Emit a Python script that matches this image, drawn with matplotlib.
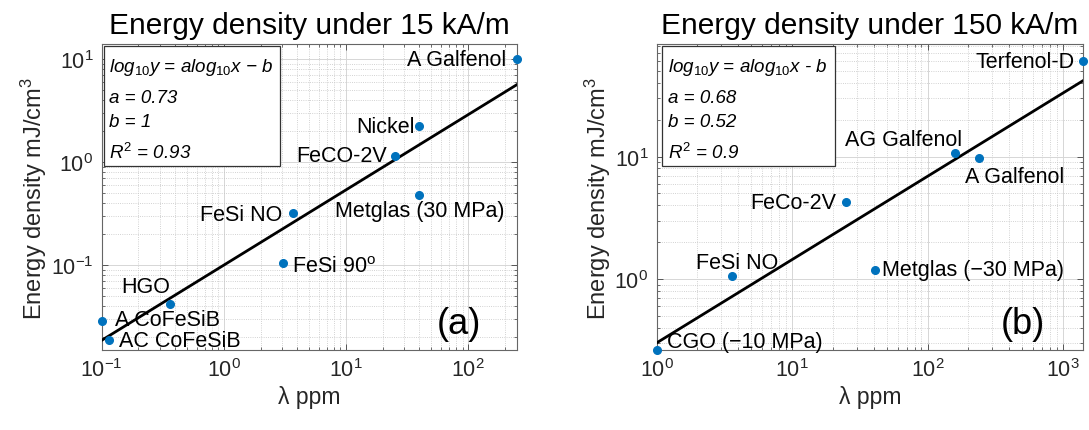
import matplotlib
matplotlib.use("Agg")
import matplotlib.pyplot as plt
import numpy as np
from matplotlib.patches import Rectangle
from matplotlib.ticker import LogLocator, NullFormatter

plt.rcParams['font.family'] = ['Liberation Sans', 'DejaVu Sans']
plt.rcParams['mathtext.fontset'] = 'custom'
plt.rcParams['mathtext.rm'] = 'Liberation Sans'
plt.rcParams['mathtext.it'] = 'Liberation Sans:italic'
plt.rcParams['mathtext.bf'] = 'Liberation Sans:bold'

# ---------------- data ----------------
titles = ["Energy density under 15 kA/m", "Energy density under 150 kA/m"]
panel_tags = ["(a)", "(b)"]

names_a = ["A Galfenol", "Nickel", "FeCO-2V", "Metglas (30 MPa)", "FeSi NO",
           "FeSi 90$^{\\mathrm{o}}$", "HGO", "A CoFeSiB", "AC CoFeSiB"]
lam_a = [250, 40, 25, 40, 3.66, 3.05, 0.36, 0.1, 0.115]
energy_a = [10, 2.25, 1.15, 0.48, 0.32, 0.105, 0.042, 0.0284, 0.0188]
fit_a = (0.73, 1.0, 0.93)
xlim_a = (0.1, 250)
ylim_a = (0.015, 14)

names_b = ["Terfenol-D", "AG Galfenol", "A Galfenol", "FeCo-2V", "FeSi NO",
           "Metglas (\u221230 MPa)", "CGO (\u221210 MPa)"]
lam_b = [1400, 160, 240, 24.8, 3.57, 40.7, 1.0]
energy_b = [60, 10.8, 9.75, 4.24, 1.06, 1.19, 0.264]
fit_b = (0.68, 0.52, 0.9)
xlim_b = (1, 1400)
ylim_b = (0.264, 83)

fit_text_a = ["a = 0.73", "b = 1", "$R^{2}$ = 0.93"]
fit_text_b = ["a = 0.68", "b = 0.52", "$R^{2}$ = 0.9"]
formula_a = "log$_{\\mathit{10}}$y = alog$_{\\mathit{10}}$x \u2212 b"
formula_b = "log$_{\\mathit{10}}$y = alog$_{\\mathit{10}}$x - b"

# label placement: (ha, va, dx px, dy px)
place_a = [("right", "center", -10, 0), ("right", "center", -5, -1),
           ("right", "center", -8, 0), ("center", "center", 0, -16),
           ("right", "center", -10, -1), ("left", "center", 9, -4),
           ("right", "center", 0, 17), ("left", "center", 13, 2),
           ("left", "center", 10, -1)]
place_b = [("right", "center", -8, 0), ("right", "center", 7, 13),
           ("left", "center", -14, -19), ("right", "center", -9, 0),
           ("center", "center", 6, 14), ("left", "center", 7, 0),
           ("left", "center", 10, 8)]

blue = "#0072BD"

fig = plt.figure(figsize=(10.89, 4.31), dpi=100)
ax_a = fig.add_axes([101.7 / 1089, 1 - 351 / 431, 415 / 1089, 306 / 431])
ax_b = fig.add_axes([656.7 / 1089, 1 - 351 / 431, 426.3 / 1089, 306 / 431])


def draw(ax, names, lam, en, fit, xlim, ylim, place, title, tag, ftxt, formula, box_w, box_x):
    a, b, r2 = fit
    ax.set_xscale("log")
    ax.set_yscale("log")
    ax.set_xlim(*xlim)
    ax.set_ylim(*ylim)
    xs = np.logspace(np.log10(xlim[0]), np.log10(xlim[1]), 50)
    ax.plot(xs, 10 ** (a * np.log10(xs) - b), color="black", lw=2.0, zorder=3)
    ax.plot(lam, en, "o", color=blue, ms=5.5, zorder=4, clip_on=False)
    for n, x, y, (ha, va, dx, dy) in zip(names, lam, en, place):
        ax.annotate(n, (x, y), xytext=(dx, dy), textcoords="offset pixels",
                    ha=ha, va=va, fontsize=15.5, color="black", zorder=5)
    ax.grid(True, which="major", color="#d6d6d6", lw=0.7)
    ax.grid(True, which="minor", color="#c4c4c4", lw=0.6, ls=":")
    ax.set_axisbelow(True)
    ax.xaxis.set_major_locator(LogLocator(base=10, numticks=10))
    ax.yaxis.set_major_locator(LogLocator(base=10, numticks=10))
    ax.xaxis.set_minor_locator(LogLocator(base=10, subs=np.arange(2, 10), numticks=20))
    ax.yaxis.set_minor_locator(LogLocator(base=10, subs=np.arange(2, 10), numticks=20))
    ax.xaxis.set_minor_formatter(NullFormatter())
    ax.yaxis.set_minor_formatter(NullFormatter())
    ax.tick_params(which="both", direction="in", top=True, right=True,
                   color="#555555", labelsize=15.5, labelcolor="#262626")
    ax.tick_params(which="major", length=4, width=0.7, pad=6)
    ax.tick_params(which="minor", length=2.5, width=0.6)
    for s in ax.spines.values():
        s.set_color("#666666")
        s.set_linewidth(0.8)
    ax.set_title(title, fontsize=21.5, pad=8)
    ax.set_xlabel("\u03bb ppm", fontsize=16.5, color="#262626", labelpad=3)
    ax.set_ylabel("Energy density mJ/cm$^{3}$", fontsize=17, color="#262626", labelpad=1)
    ax.text(0.86, 0.087, tag, transform=ax.transAxes, fontsize=26,
            ha="center", va="center", zorder=6)
    rect = Rectangle((box_x, 0.60), box_w, 0.392, transform=ax.transAxes,
                     facecolor="white", edgecolor="#333333", lw=0.9, zorder=6)
    ax.add_patch(rect)
    tx = box_x + 0.013
    ax.text(tx, 0.925, formula, transform=ax.transAxes, fontsize=13.5, style="italic",
            ha="left", va="center", zorder=7)
    for t, yy in zip(ftxt, [0.824, 0.748, 0.647]):
        ax.text(tx, yy, t, transform=ax.transAxes, fontsize=13.5, style="italic",
                ha="left", va="center", zorder=7)


draw(ax_a, names_a, lam_a, energy_a, fit_a, xlim_a, ylim_a, place_a,
     titles[0], panel_tags[0], fit_text_a, formula_a, 0.425, 0.005)
draw(ax_b, names_b, lam_b, energy_b, fit_b, xlim_b, ylim_b, place_b,
     titles[1], panel_tags[1], fit_text_b, formula_b, 0.405, 0.013)

fig.savefig("out.png", dpi=100)
